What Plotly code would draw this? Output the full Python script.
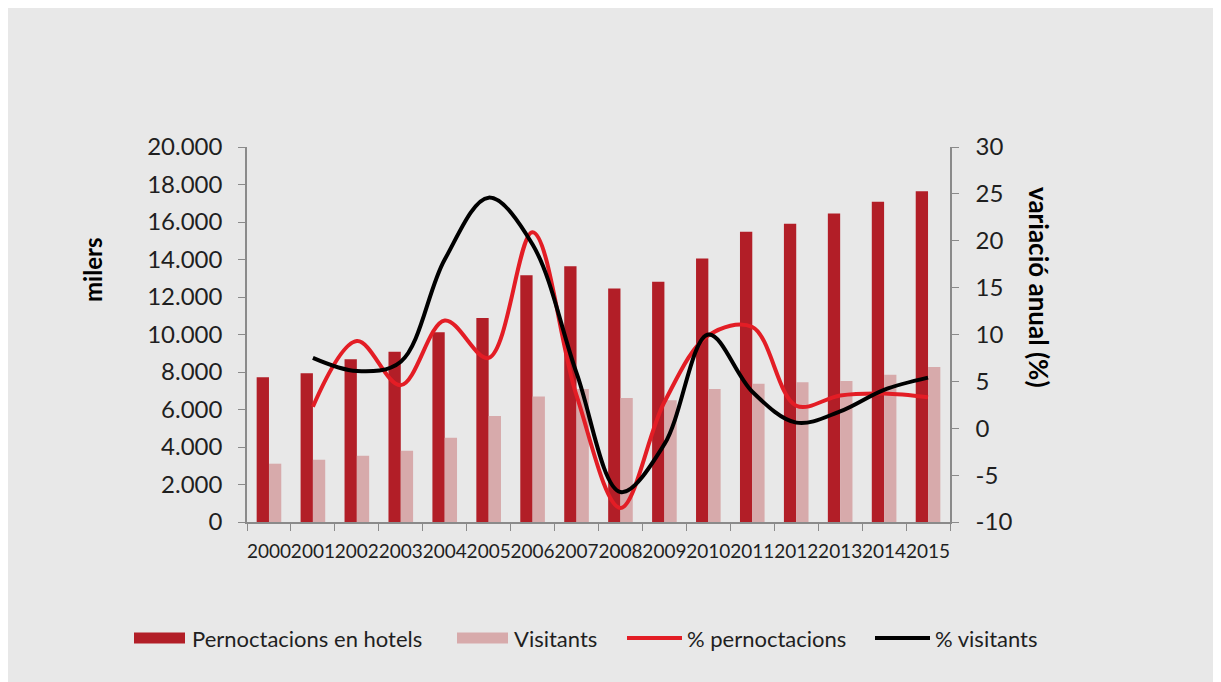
import plotly.graph_objects as go

years = [str(y) for y in range(2000, 2016)]
pernoctacions = [7720, 7930, 8680, 9080, 10120, 10880, 13160, 13640,
                 12460, 12820, 14060, 15480, 15910, 16460, 17080, 17640]
visitants = [3110, 3320, 3540, 3800, 4500, 5650, 6700, 7090,
             6610, 6490, 7090, 7380, 7450, 7520, 7860, 8270]
line_years = years[1:]
pct_pernoctacions = [2.3, 9.3, 4.6, 11.5, 7.5, 20.9, 3.5, -8.5, 2.8, 9.9, 10.8, 2.4, 3.5, 3.7, 3.3]
pct_visitants = [7.5, 6.1, 7.1, 18.0, 24.6, 19.6, 5.9, -6.8, -1.7, 10.0, 3.9, 0.6, 1.8, 4.1, 5.4]

right_tickvals = [-10, -5, 0, 5, 10, 15, 20, 25, 30]
right_ticktext = ["-10", "-5", "0", "5", "10", "15", "20", "25", "30"]

legend_names = ["Pernoctacions en hotels", "Visitants", "% pernoctacions", "% visitants"]

# page has an 8px body margin; figure sits at (8, 8)
OFF = 8
W, H = 1221 - OFF, 682 - OFF
ML, MT = 247 - OFF, 147 - OFF
PW, PH = 703, 375
MR, MB = W - ML - PW, H - MT - PH


def px_x(p):
    return (p - OFF - ML) / PW


def px_y(p):
    return (H - MB - (p - OFF)) / PH


FONT = "Lato"
TXT = "#1f1f1f"
BG = "#e8e8e8"
C_DARK = "#b21e27"
C_LIGHT = "#d7aaab"
C_RED = "#e31d25"
C_BLACK = "#000000"
AX = "#8a8a8a"

fig = go.Figure()
fig.add_trace(go.Bar(x=years, y=pernoctacions, name=legend_names[0],
                     marker=dict(color=C_DARK, line=dict(width=0))))
fig.add_trace(go.Bar(x=years, y=visitants, name=legend_names[1],
                     marker=dict(color=C_LIGHT, line=dict(width=0))))
fig.add_trace(go.Scatter(x=line_years, y=pct_pernoctacions, name=legend_names[2],
                         mode="lines", yaxis="y2",
                         line=dict(color=C_RED, width=4, shape="spline", smoothing=1.0)))
fig.add_trace(go.Scatter(x=line_years, y=pct_visitants, name=legend_names[3],
                         mode="lines", yaxis="y2",
                         line=dict(color=C_BLACK, width=4, shape="spline", smoothing=1.0)))

# custom legend (swatches + labels)
leg_y = 638
swatches = [
    dict(kind="rect", x0=134, x1=185, color=C_DARK, tx=190),
    dict(kind="rect", x0=457, x1=508, color=C_LIGHT, tx=512),
    dict(kind="line", x0=627, x1=682, color=C_RED, tx=685),
    dict(kind="line", x0=875, x1=930, color=C_BLACK, tx=933),
]
shapes = []
annotations = []
for sw, name in zip(swatches, legend_names):
    if sw["kind"] == "rect":
        shapes.append(dict(type="rect", xref="paper", yref="paper",
                           x0=px_x(sw["x0"]), x1=px_x(sw["x1"]),
                           y0=px_y(leg_y + 5.5), y1=px_y(leg_y - 5.5),
                           fillcolor=sw["color"], line=dict(width=0)))
    else:
        shapes.append(dict(type="line", xref="paper", yref="paper",
                           x0=px_x(sw["x0"]), x1=px_x(sw["x1"]),
                           y0=px_y(leg_y), y1=px_y(leg_y),
                           line=dict(color=sw["color"], width=4)))
    annotations.append(dict(text=name, xref="paper", yref="paper", x=px_x(sw["tx"]),
                            y=px_y(leg_y), xanchor="left", yanchor="middle",
                            showarrow=False, font=dict(size=22, family=FONT, color=TXT)))

annotations += [
    dict(text="<b>milers</b>", xref="paper", yref="paper", x=px_x(92), y=px_y(270),
         textangle=-90, showarrow=False, font=dict(size=24, family=FONT, color="#000"),
         xanchor="center", yanchor="middle"),
    dict(text="<b>variació anual (%)</b>", xref="paper", yref="paper", x=px_x(1039),
         y=px_y(287), textangle=90, showarrow=False,
         font=dict(size=26, family=FONT, color="#000"), xanchor="center", yanchor="middle"),
]

fig.update_layout(
    width=W, height=H,
    margin=dict(l=ML, r=MR, t=MT, b=MB, pad=0),
    paper_bgcolor=BG,
    plot_bgcolor=BG,
    separators=",.",
    barmode="group",
    bargap=0.44,
    bargroupgap=0,
    font=dict(family=FONT, color=TXT, size=18),
    showlegend=False,
    xaxis=dict(type="category", tickson="boundaries", ticks="outside", ticklen=7,
               tickcolor=AX, showline=True, linecolor=AX, linewidth=1.5,
               showgrid=False, tickfont=dict(size=19, family=FONT, color=TXT),
               tickangle=0, zeroline=False, ticklabelstandoff=11),
    yaxis=dict(range=[0, 20000], dtick=2000, tickformat=",d", ticks="outside", ticklen=7,
               tickcolor=AX, showline=True, linecolor=AX, linewidth=1.5,
               showgrid=False, zeroline=False, ticklabelstandoff=11,
               tickfont=dict(size=24, family=FONT, color=TXT)),
    yaxis2=dict(range=[-10, 30], tickmode="array", tickvals=right_tickvals,
                ticktext=right_ticktext, overlaying="y", side="right", ticks="outside",
                ticklen=7, tickcolor=AX, showline=True, linecolor=AX,
                linewidth=1.5, showgrid=False, zeroline=False, ticklabelstandoff=12,
                tickfont=dict(size=24, family=FONT, color=TXT)),
    shapes=shapes,
    annotations=annotations,
)

fig.write_html("out.html")
